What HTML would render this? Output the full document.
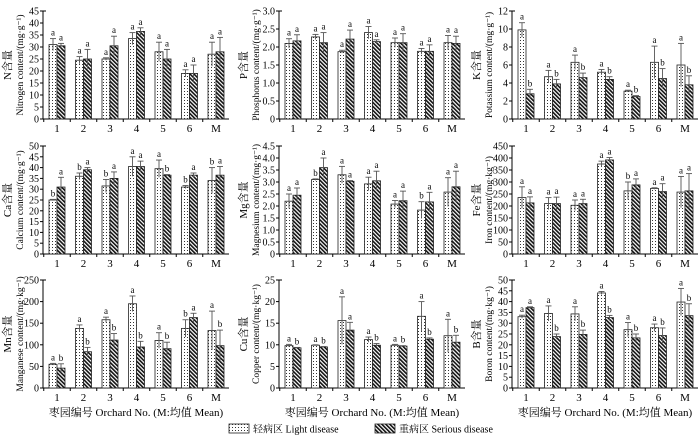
<!DOCTYPE html>
<html><head><meta charset="utf-8">
<style>
body{margin:0;background:#fff;}
svg{display:block;font-family:"Liberation Serif","Noto Serif CJK SC",serif;}
</style></head><body>
<svg id="c" width="700" height="440" viewBox="0 0 700 440" xmlns="http://www.w3.org/2000/svg">
<defs>
<pattern id="dots" width="3" height="3" patternUnits="userSpaceOnUse"><rect width="3" height="3" fill="#fff"/><rect x="1" y="1" width="1" height="1" fill="#333"/></pattern>
<pattern id="hatch" width="2.8" height="2.8" patternUnits="userSpaceOnUse" patternTransform="rotate(-45)"><rect width="2.8" height="2.8" fill="#fff"/><rect width="1.6" height="2.8" fill="#111"/></pattern>
</defs>
<g id="panels"></g>
<g>
<rect x="229" y="424" width="20" height="9" fill="url(#dots)" stroke="#222" stroke-width="0.8"/>
<text x="253" y="432.5" font-size="10">轻病区 Light disease</text>
<rect x="375" y="424" width="20" height="9" fill="url(#hatch)" stroke="#222" stroke-width="0.8"/>
<text x="399" y="432.5" font-size="10">重病区 Serious disease</text>
</g>
</svg>
<script>
const categories=["1","2","3","4","5","6","M"];
const panelNames=["N","P","K","Ca","Mg","Fe","Mn","Cu","B"];
const cnLabels=["N含量","P含量","K含量","Ca含量","Mg含量","Fe含量","Mn含量","Cu含量","B含量"];
const enLabels=["Nitrogen content/(mg·g⁻¹)","Phosphorus content/(mg·g⁻¹)","Potassium content/(mg·g⁻¹)","Calcium content/(mg·g⁻¹)","Magnesium content/(mg·g⁻¹)","Iron content/(mg·kg⁻¹)","Manganese content/(mg·kg⁻¹)","Copper content/(mg·kg⁻¹)","Boron content/(mg·kg⁻¹)"];
const yMax=[45,3,12,50,4.5,450,250,25,50];
const yStep=[5,0.5,2,5,0.5,50,50,5,5];
const yDecimals=[0,1,0,0,1,0,0,0,0];
const lightN=[31,24.5,25,33.5,28,19,27], lightNErr=[2.5,1.5,0.5,2.5,4,1.5,5];
const seriousN=[30.5,25,30.5,36.5,25,19,28], seriousNErr=[1,4,4,1.5,4,3.5,6];
const lightP=[2.1,2.28,1.87,2.4,2.12,1.88,2.12], lightPErr=[0.13,0.07,0.04,0.17,0.13,0.08,0.2];
const seriousP=[2.17,2.12,2.22,2.15,2.12,1.88,2.1], seriousPErr=[0.17,0.28,0.25,0.05,0.25,0.18,0.2];
const lightK=[9.9,4.7,6.3,5.2,3.1,6.3,6.0], lightKErr=[0.8,0.7,0.8,0.3,0.1,1.8,2.4];
const seriousK=[2.8,3.9,4.6,4.4,2.5,4.5,3.8], seriousKErr=[0.5,0.5,0.5,0.3,0.1,1.1,1];
const lightCa=[25,36,31.5,40.5,39.5,31,34], lightCaErr=[0.3,1.5,3,4.5,4,0.7,6];
const seriousCa=[31,39,35,40.5,36.5,36.5,36.5], seriousCaErr=[4.5,1,3,2.5,0.3,1,4];
const lightMg=[2.2,3.1,3.3,2.92,2.08,1.83,2.58], lightMgErr=[0.3,0.03,0.35,0.28,0.15,0.35,0.6];
const seriousMg=[2.45,3.6,3.03,3.05,2.22,2.17,2.8], seriousMgErr=[0.3,0.4,0.03,0.4,0.4,0.4,0.65];
const lightFe=[235,210,203,375,263,273,258], lightFeErr=[45,25,22,12,37,3,65];
const seriousFe=[213,210,210,392,288,260,263], seriousFeErr=[25,27,18,10,25,33,72];
const lightMn=[55,138,158,195,110,138,133], lightMnErr=[2,8,6,18,18,20,45];
const seriousMn=[46,84,111,95,91,163,98], seriousMnErr=[10,10,15,13,15,10,36];
const lightCu=[9.8,9.9,15.6,11.2,9.9,16.6,12.1], lightCuErr=[0.3,0.1,5.5,0.6,0.2,3.4,3.8];
const seriousCu=[9.3,9.5,13.4,9.9,9.7,11.3,10.6], seriousCuErr=[0.1,0.1,1.8,0.4,0.1,0.3,1.6];
const lightB=[33,34.5,34.3,44,27,27.9,39.8], lightBErr=[0.7,3.5,3.3,0.7,3.3,1.7,6.3];
const seriousB=[37.2,23.8,24.8,32.6,23.2,24.3,33.5], seriousBErr=[0.4,1.2,2,1,1.8,3.5,5.5];
const lightLetters=["aaaaaaa","aaaaaaa","aaaaaaa","bbbaabb","abaaaba","aaaabaa","aaaaaba","aaaaaaa","aaaaaaa"];
const seriousLetters=["aaaaaaa","aaaaaaa","bbbbbbb","aaaabaa","aaaaaaa","aaaaaaa","bbbbbab","bbabbbb","abbbbbb"];
const lightVals=[lightN,lightP,lightK,lightCa,lightMg,lightFe,lightMn,lightCu,lightB];
const lightErrs=[lightNErr,lightPErr,lightKErr,lightCaErr,lightMgErr,lightFeErr,lightMnErr,lightCuErr,lightBErr];
const seriousVals=[seriousN,seriousP,seriousK,seriousCa,seriousMg,seriousFe,seriousMn,seriousCu,seriousB];
const seriousErrs=[seriousNErr,seriousPErr,seriousKErr,seriousCaErr,seriousMgErr,seriousFeErr,seriousMnErr,seriousCuErr,seriousBErr];

const NS="http://www.w3.org/2000/svg";
const root=document.getElementById('panels');
const axisXs=[43,279,512], baseYs=[119,254,388];
const plotH=108, plotW=186, step=26.5, bw=8;
function mk(tag,attrs,parent){const e=document.createElementNS(NS,tag);for(const k in attrs)e.setAttribute(k,attrs[k]);parent.appendChild(e);return e;}

for(let p=0;p<9;p++){
  const ax=axisXs[p%3], by=baseYs[Math.floor(p/3)];
  const g=mk('g',{},root);
  
  
  const yS=v=>by-v/yMax[p]*plotH;
  const xS=i=>ax+14+i*step;
  const ya=mk('line',{x1:ax,y1:by,x2:ax,y2:by-plotH,stroke:'#000','stroke-width':1},g);
  
  
  const xa=mk('line',{x1:ax,y1:by,x2:ax+plotW,y2:by,stroke:'#000','stroke-width':1},g);
  
  
  mk('line',{x1:ax,y1:by-plotH,x2:ax+3,y2:by-plotH,stroke:'#000','stroke-width':1},g);
  for(let v=0;v<=yMax[p]+1e-9;v+=yStep[p]){
    const y=yS(v);
    mk('line',{x1:ax-3,y1:y,x2:ax,y2:y,stroke:'#000','stroke-width':1},g);
    const t=mk('text',{x:ax-4,y:y+3.5,'font-size':10,'text-anchor':'end'},g);
    
    
    t.textContent=v===0?'0':v.toFixed(yDecimals[p]);
  }
  for(let i=0;i<=7;i++){const x=ax+14+(i-0.5)*step; if(x>ax+plotW)break; mk('line',{x1:x,y1:by,x2:x,y2:by+3,stroke:'#000','stroke-width':1},g);}
  categories.forEach((c,i)=>{
    const t=mk('text',{x:xS(i),y:by+13,'font-size':11,'text-anchor':'middle'},g);
    
    
    t.textContent=c;
  });
  const cy=by-plotH/2;
  const t1=mk('text',{x:0,y:0,'font-size':11,'text-anchor':'middle',transform:`translate(${ax-32},${cy}) rotate(-90)`},g);
  
  
  t1.textContent=cnLabels[p];
  const t2=mk('text',{x:0,y:0,'font-size':9.5,'text-anchor':'middle',transform:`translate(${ax-20},${cy}) rotate(-90)`},g);
  
  
  t2.textContent=enLabels[p];
  if(p>=6){
    const t3=mk('text',{x:ax+plotW/2,y:by+28,'font-size':11,'text-anchor':'middle'},g);
    
    
    t3.textContent='枣园编号 Orchard No. (M:均值 Mean)';
  }
  const series=[[lightVals[p],lightErrs[p],lightLetters[p],'url(#dots)',-bw,'light'],[seriousVals[p],seriousErrs[p],seriousLetters[p],'url(#hatch)',0,'serious']];
  series.forEach(([vals,errs,lets,fill,off,nm])=>{
    vals.forEach((v,i)=>{
      const x=xS(i)+off, y=yS(v);
      const r=mk('rect',{x:x,y:y,width:bw,height:by-y,fill:fill,stroke:'#222','stroke-width':0.8},g);
      
      
      const cx=x+bw/2, yt=yS(v+errs[i]), yb=yS(Math.max(0,v-errs[i]));
      const e=mk('line',{x1:cx,y1:yb,x2:cx,y2:yt,stroke:'#555','stroke-width':0.9},g);
      
      
      mk('line',{x1:cx-3,y1:yt,x2:cx+3,y2:yt,stroke:'#555','stroke-width':0.9},g);
      const lt=mk('text',{x:cx,y:yt-3,'font-size':9,'text-anchor':'middle'},g);
      
      
      lt.textContent=lets[i];
    });
  });
}
</script>
</body></html>
